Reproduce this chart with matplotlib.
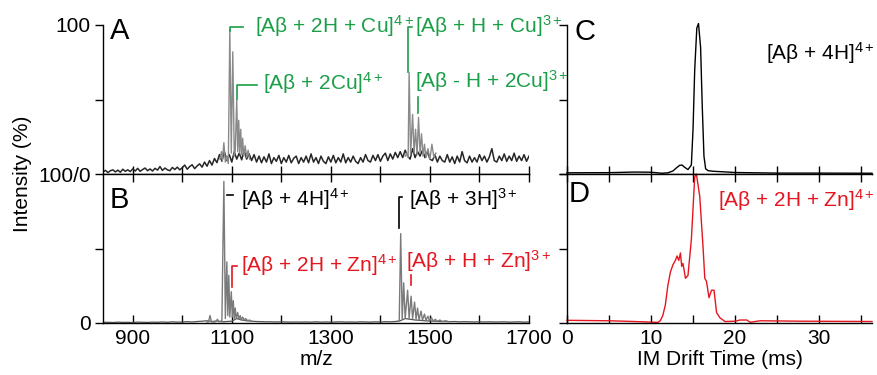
import numpy as np
import matplotlib
matplotlib.use("Agg")
import matplotlib.pyplot as plt

plt.rcParams['font.family'] = ['Liberation Sans', 'DejaVu Sans']
plt.rcParams['mathtext.fontset'] = 'custom'
plt.rcParams['mathtext.rm'] = 'Liberation Sans'
plt.rcParams['mathtext.it'] = 'Liberation Sans:italic'
plt.rcParams['mathtext.bf'] = 'Liberation Sans:bold'

green = '#1b9e48'
red = '#e4161f'

# A: Cu-bound spectrum, baseline sampled every 5 m/z
a_base_mz = np.arange(840, 1701, 5)
a_base = [1.5, 2.4, 1.0, 2.2, 2.8, 1.4, 2.6, 1.2, 3.2, 1.8,
          2.8, 1.6, 3.4, 2.0, 3.8, 1.8, 3.0, 4.0, 2.2, 3.4,
          2.0, 3.8, 2.6, 5.0, 2.4, 4.0, 2.8, 2.2, 4.4, 3.0,
          4.6, 2.8, 4.2, 6.0, 3.2, 5.0, 6.2, 3.6, 5.4, 6.8,
          4.6, 8.0, 5.2, 9.0, 6.0, 10.4, 7.6, 13.0, 8.6, 15.0,
          9.0, 13.0, 8.0, 15.0, 10.0, 14.0, 9.5, 16.0, 10.0, 13.5,
          9.0, 13.0, 8.0, 12.0, 7.5, 11.5, 8.0, 13.5, 7.0, 11.0,
          8.5, 12.5, 7.0, 11.0, 8.0, 12.5, 7.5, 10.5, 12.0, 7.0,
          11.0, 8.0, 12.0, 7.5, 13.5, 8.0, 11.0, 7.0, 12.0, 8.5,
          7.0, 11.5, 8.0, 12.5, 7.5, 11.0, 8.0, 13.5, 7.5, 11.0,
          8.0, 12.0, 8.5, 7.0, 11.0, 8.0, 13.0, 9.0, 8.0, 12.5,
          9.0, 13.0, 8.5, 12.0, 14.0, 9.0, 13.5, 10.0, 14.5, 11.0,
          15.0, 11.0, 16.0, 12.0, 10.0, 17.0, 11.0, 15.0, 12.0, 16.0,
          11.0, 15.0, 10.0, 9.0, 13.0, 8.0, 12.0, 9.0, 8.0, 13.0,
          8.0, 11.5, 7.0, 12.0, 8.0, 15.0, 9.0, 7.5, 12.0, 8.0,
          11.0, 8.0, 13.0, 9.0, 12.0, 8.0, 11.5, 17.0, 9.0, 8.0,
          12.0, 9.0, 13.5, 8.5, 12.0, 9.0, 14.0, 8.5, 12.0, 9.0,
          13.0, 8.5, 12.0]
a_4p_mz = [1076, 1079, 1081, 1084, 1087, 1090, 1093, 1096, 1099, 1102,
           1105, 1107, 1110, 1112, 1114, 1116, 1118, 1120, 1122, 1124,
           1127, 1130, 1133, 1136]
a_4p = [10, 15, 9, 21, 8, 12, 7, 97, 14, 82,
        12, 16, 50, 15, 36, 14, 30, 13, 24, 12,
        19, 11, 16, 10]
a_3p_mz = [1450, 1453, 1456, 1458, 1461, 1465, 1468, 1471, 1474, 1477,
           1480, 1483, 1486, 1489, 1492, 1496, 1500, 1504, 1508, 1512]
a_3p = [12, 14, 11, 68, 13, 40, 14, 30, 13, 38,
        14, 27, 12, 20, 11, 17, 10, 20, 11, 14]

# B: Zn-bound spectrum, baseline every 10 m/z
b_base_mz = np.arange(840, 1701, 10)
b_base = [0.4, 0.5, 0.3, 0.6, 0.4, 0.5, 0.3, 0.6, 0.5, 0.4,
          0.6, 0.5, 0.7, 0.5, 0.8, 0.6, 0.7, 0.9, 0.7, 1.0,
          1.2, 1.5, 1.0, 1.4, 0.8, 1.0, 1.2, 3.0, 2.0, 1.5,
          1.2, 1.0, 0.9, 0.8, 0.8, 0.7, 0.8, 0.7, 0.6, 0.7,
          0.6, 0.7, 0.6, 0.8, 0.6, 0.7, 0.6, 0.7, 0.8, 0.6,
          0.7, 0.6, 0.8, 0.7, 0.6, 0.8, 0.7, 0.9, 0.8, 1.0,
          1.5, 3.0, 2.5, 2.0, 1.8, 1.5, 1.3, 1.2, 1.0, 1.0,
          0.9, 1.0, 0.8, 0.9, 0.8, 0.7, 0.8, 0.7, 0.8, 0.7,
          0.7, 0.8, 0.6, 0.7, 0.8, 0.6, 0.7]
b_4p_mz = [1050, 1053, 1056, 1059, 1065, 1068, 1071, 1074, 1080, 1084,
           1087, 1090, 1092, 1094, 1096, 1099, 1101, 1103, 1105, 1107,
           1109, 1112, 1114, 1117, 1119, 1122, 1125, 1128, 1132, 1136, 1140]
b_4p = [0.6, 0.8, 5, 0.8, 0.7, 0.9, 2.5, 0.8, 1.5, 95,
        3, 41, 5, 32, 4, 21, 4, 15, 3, 10,
        3, 7, 2.5, 5, 2, 4, 2, 3, 1.5, 2, 1.2]
b_3p_mz = [1436, 1438, 1441, 1444, 1447, 1450, 1455, 1458, 1462, 1465,
           1469, 1472, 1475, 1478, 1482, 1485, 1489, 1492, 1496, 1499,
           1503, 1507, 1511, 1515, 1520, 1525, 1532, 1538]
b_3p = [1.0, 1.2, 60, 2.5, 27, 3, 22, 3, 18, 3,
        14, 2.5, 10, 2, 8, 2, 6, 1.8, 4.5, 1.5,
        3.5, 1.2, 2.5, 1, 2, 1, 1.5, 0.9]

# C / D: arrival time distributions
c_t = [0, 5, 8, 10, 11.3, 12, 12.6, 13.0, 13.4, 13.7, 14.0, 14.4, 14.8,
       15.0, 15.2, 15.45, 15.65, 15.9, 16.1, 16.3, 16.5, 16.8, 17.5, 18.5,
       20, 25, 30, 36.3]
c_int = [0.8, 0.9, 1.3, 1.2, 0.5, 0.8, 2.0, 4.0, 5.8, 6.0, 4.5, 3.0, 6.0,
         30, 70, 98, 101, 85, 45, 12, 3.5, 2.2, 1.8, 1.5,
         1.0, 0.6, 0.6, 0.5]

d_t = [0, 5, 8, 10, 10.8, 11.1, 11.4, 11.7, 12.0, 12.3, 12.6, 12.9, 13.1,
       13.3, 13.5, 13.65, 13.8, 14.1, 14.4, 14.8, 15.2, 15.4, 15.8, 16.2,
       16.4, 16.6, 16.9, 17.2, 17.5, 17.8, 18.2, 18.8, 20.0, 20.6, 21.4,
       21.8, 23, 28, 36.3]
d_int = [1.8, 1.5, 1.0, 0.6, 0.4, 1.5, 5, 12, 25, 34, 39, 42, 45,
         42, 47, 38, 40, 30, 32, 56, 98, 100, 85, 50,
         30, 28, 17, 22, 22, 7, 3.5, 1.0, 1.2, 2.0, 2.0,
         0.5, 1.5, 1.2, 1.0]

fs = 15
fig = plt.figure(figsize=(8.77, 3.75), dpi=100)
W, H = 877, 375
axA = fig.add_axes([103 / W, 1 - 174 / H, 426 / W, 149 / H])
axB = fig.add_axes([103 / W, 1 - 323 / H, 426 / W, 149 / H])
axC = fig.add_axes([567 / W, 1 - 174 / H, 305 / W, 149 / H])
axD = fig.add_axes([567 / W, 1 - 323 / H, 305 / W, 149 / H])

# spectra
axA.plot(a_base_mz, a_base, color='#262626', lw=1.1)
axA.plot(a_4p_mz, a_4p, color='#8a8a8a', lw=1.0)
axA.plot(a_3p_mz, a_3p, color='#8a8a8a', lw=1.0)
axB.plot(b_base_mz, b_base, color='#555555', lw=0.9)
axB.plot(b_4p_mz, b_4p, color='#7a7a7a', lw=1.0)
axB.plot(b_3p_mz, b_3p, color='#7a7a7a', lw=1.0)

axC.plot(c_t, c_int, color='black', lw=1.0, clip_on=False)
axD.plot(d_t, d_int, color=red, lw=1.0, clip_on=False)

for ax in (axA, axB):
    ax.set_xlim(840, 1700)
    ax.set_ylim(0, 100)
    ax.spines['right'].set_visible(False)
for ax in (axC, axD):
    ax.set_xlim(0, 36.3)
    ax.set_ylim(0, 100)
    ax.spines['right'].set_visible(False)
axA.spines['top'].set_visible(False)
axC.spines['top'].set_visible(False)

for ax in (axA, axB, axC, axD):
    for s in ax.spines.values():
        s.set_linewidth(1.0)
    ax.tick_params(axis='y', direction='out', length=6, width=1,
                   labelsize=fs, pad=3)
    ax.tick_params(axis='x', which='both', direction='in', length=6,
                   width=1, labelsize=fs, pad=4)

axA.set_yticks([50, 100])
axA.set_yticklabels(['', '100'])
axB.set_yticks([0, 50, 100])
axB.set_yticklabels(['0', '', '100/0'])
axA.set_xticks(np.arange(900, 1701, 100))
axA.tick_params(axis='x', labelbottom=False)
axB.set_xticks([900, 1100, 1300, 1500, 1700])
axB.set_xticks([1000, 1200, 1400, 1600], minor=True)
axB.tick_params(axis='x', which='both', top=True)
axB.set_xlabel('m/z', fontsize=fs, labelpad=2)

for ax in (axC, axD):
    ax.set_yticks([0, 50, 100])
    ax.set_yticklabels([])
axC.set_xticks(np.arange(0, 36, 5))
axC.tick_params(axis='x', labelbottom=False)
axD.set_xticks([0, 10, 20, 30])
axD.set_xticks([5, 15, 25, 35], minor=True)
axD.tick_params(axis='x', which='both', top=True)
axD.set_xlabel('IM Drift Time (ms)', fontsize=fs, labelpad=2)

fig.text(23 / W, 1 - 174 / H, 'Intensity (%)', rotation=90,
         ha='center', va='center', fontsize=fs)

# panel letters
lf = 21
axA.text(854, 90.6, 'A', fontsize=lf)
axB.text(854, 77.2, 'B', fontsize=lf)
axC.text(0.95, 90, 'C', fontsize=lf)
axD.text(0.24, 81, 'D', fontsize=lf)

# annotations, panel A
axA.text(1147, 94.6, '[Aβ + 2H + Cu]$^{4+}$', color=green, fontsize=fs)
axA.plot([1096, 1096, 1123], [96, 98.7, 98.7], color=green, lw=1.2, clip_on=False)
axA.text(1163, 56.4, '[Aβ + 2Cu]$^{4+}$', color=green, fontsize=fs)
axA.plot([1110, 1110, 1151], [50.5, 59.7, 59.7], color=green, lw=1.2)
axA.text(1470, 94.6, '[Aβ + H + Cu]$^{3+}$', color=green, fontsize=fs)
axA.plot([1464, 1456, 1456], [98.7, 98.7, 68.5], color=green, lw=1.2, clip_on=False)
axA.text(1470, 57.7, '[Aβ - H + 2Cu]$^{3+}$', color=green, fontsize=fs)
axA.plot([1476, 1476], [51.7, 40.9], color=green, lw=1.2)

# annotations, panel B
axB.text(1118.6, 78.5, '[Aβ + 4H]$^{4+}$', color='black', fontsize=fs)
axB.plot([1090, 1102], [85.9, 85.9], color='black', lw=1.2)
axB.text(1118.6, 34.2, '[Aβ + 2H + Zn]$^{4+}$', color=red, fontsize=fs)
axB.plot([1110.5, 1100.4, 1100.4], [38.3, 38.3, 24.2], color=red, lw=1.2)
axB.text(1457.8, 78.5, '[Aβ + 3H]$^{3+}$', color='black', fontsize=fs)
axB.plot([1443.7, 1437.6, 1437.6], [84.6, 84.6, 63.8], color='black', lw=1.2)
axB.text(1451.8, 36.9, '[Aβ + H + Zn]$^{3+}$', color=red, fontsize=fs)
axB.plot([1461.8, 1461.8], [32.2, 25.5], color=red, lw=1.2)

# right-hand labels, right-aligned just inside the figure edge
axC.text(1.0 + 3 / 305, 76.5 / 100, '[Aβ + 4H]$^{4+}$', color='black',
         fontsize=fs, ha='right', transform=axC.transAxes)
axD.text(1.0 + 3 / 305, 77.9 / 100, '[Aβ + 2H + Zn]$^{4+}$', color=red,
         fontsize=fs, ha='right', transform=axD.transAxes)

fig.savefig('out.png', dpi=100)
